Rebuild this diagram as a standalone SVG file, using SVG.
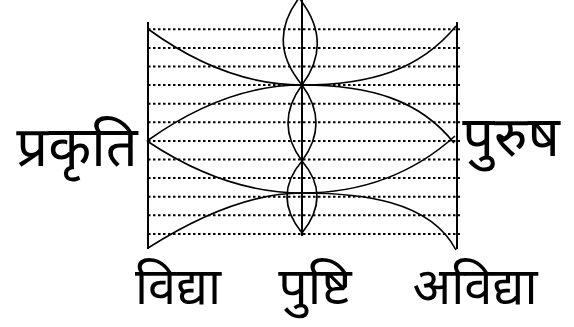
<svg xmlns="http://www.w3.org/2000/svg" width="574" height="327" viewBox="0 0 574 327">
<style>
.dot{stroke:#000;stroke-width:2;stroke-dasharray:2.5 2.5;fill:none}
.v{stroke:#000;stroke-width:2;fill:none}
.c{stroke:#000;stroke-width:1.6;fill:none}
.t{font-family:"Noto Sans Devanagari","Noto Sans","Lohit Devanagari","FreeSans",sans-serif;font-size:56px;fill:#000;text-anchor:middle}
.b{font-size:52px}
</style>
<rect width="574" height="327" fill="#fff"/>
<g id="grid">
<path class="dot" d="M148,29.3H460M148,47.9H460M148,66.5H460M148,85.1H460M148,103.7H460M148,122.3H460M148,140.9H460M148,159.5H460M148,178.1H460M148,196.7H460M148,215.3H460M148,233.9H460"/>
</g>
<g id="frame">
<path class="v" d="M148,22V249M457,22V249M302,0V236"/>
</g>
<g id="connectors">
<path class="c" d="M148,29 Q225,85 302,85"/>
<path class="c" d="M302,85 Q225,85 147,141"/>
<path class="c" d="M147,141 Q225,193 302,193"/>
<path class="c" d="M302,193 Q235,193 148,248"/>
<path class="c" d="M302,85 C370,85 420,70 456,26"/>
<path class="c" d="M302,85 C370,85 420,100 454,143"/>
<path class="c" d="M302,193 C365,193 415,172 455,136"/>
<path class="c" d="M302,193 C360,193 430,200 456,250"/>
<path class="c" d="M299,-2 Q266,42 302,85 Q334,42 299,-2"/>
<path class="c" d="M302,85 Q274,123 302,161 Q330,123 302,85"/>
<path class="c" d="M302,161 Q272,196 302,233 Q332,196 302,161"/>
</g>
<g id="prakriti"><text class="t" x="77" y="166">प्रकृति</text></g>
<g id="purusha"><text class="t" x="511" y="156">पुरुष</text></g>
<g id="vidya"><text class="t b" x="178" y="304" textLength="86" lengthAdjust="spacingAndGlyphs">विद्या</text></g>
<g id="pushti"><text class="t b" x="315" y="304">पुष्टि</text></g>
<g id="avidya"><text class="t b" x="475" y="304" textLength="125" lengthAdjust="spacingAndGlyphs">अविद्या</text></g>
</svg>
